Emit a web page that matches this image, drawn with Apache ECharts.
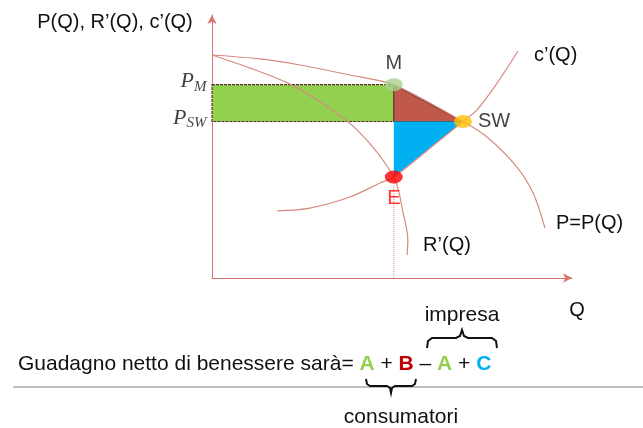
<!DOCTYPE html>
<html>
<head>
<meta charset="utf-8">
<script src="https://cdn.jsdelivr.net/npm/echarts@6/dist/echarts.min.js"></script>
<style>
  html, body { margin: 0; padding: 0; background: #fff; }
  #main { width: 643px; height: 428px; }
</style>
</head>
<body>
<div id="main"></div>
<script>
// punti chiave (Q, P)
var Q_M = 5.05, P_M = 7.35;
var Q_SW = 6.97, P_SW = 5.95;
var P_E = 3.84;

// curve
var demand = [[0, 8.48], [1.33, 8.33], [2.44, 8.1], [3.83, 7.72], [Q_M, P_M], [Q_SW, P_SW],
  [7.64, 5.36], [8.47, 4.22], [8.92, 3.23], [9.25, 1.9]];
var marginalRevenue = [[0, 8.48], [1.06, 7.98], [2.11, 7.41], [2.92, 6.77], [4.03, 5.63],
  [Q_M, P_E], [5.31, 2.47], [5.44, 1.44], [5.42, 0.87]];
var marginalCost = [[1.81, 2.55], [2.72, 2.66], [3.83, 3.08], [4.67, 3.61], [Q_M, P_E],
  [6.06, 4.94], [Q_SW, P_SW], [7.36, 6.39], [7.92, 7.41], [8.5, 8.63]];

// aree A, B, C
var areaA = [[0, P_M], [Q_M, P_M], [Q_M, P_SW], [0, P_SW]];
var areaB = [[Q_M, P_M], [Q_SW, P_SW], [Q_M, P_SW]];
var areaC = [[Q_M, P_SW], [Q_SW, P_SW], [Q_M, P_E]];
var areas = [areaA, areaB, areaC];

var pointNames = ['M', 'SW', 'E'];
var pointValues = [[Q_M, P_M], [Q_SW, P_SW], [Q_M, P_E]];
var priceLabels = ['M', 'SW'];
var priceValues = [P_M, P_SW];

var txtFont = 'Liberation Sans, Arial, Helvetica, sans-serif';
var mathFont = 'Liberation Serif, DejaVu Serif, serif';
var curveColor = '#d68a80';
var axisColor = '#d9766c';

var myChart = echarts.init(document.getElementById('main'));

var areaStyles = [
  { fill: '#92d050', stroke: '#5e2f29', lineWidth: 1.2, lineDash: [3, 1] },
  { fill: '#c0584b', stroke: '#5e2f29', lineWidth: 1 },
  { fill: '#00b0f0', stroke: null }
];

var axisCommon = {
  type: 'value',
  min: 0,
  max: 10,
  axisLine: {
    show: true,
    symbol: ['none', 'arrow'],
    symbolSize: [7, 9],
    lineStyle: { color: axisColor, width: 1 }
  },
  axisTick: { show: false },
  axisLabel: { show: false },
  splitLine: { show: false }
};

var endLbl = function (offset) {
  return {
    show: true,
    formatter: '{a}',
    color: '#111',
    fontSize: 20,
    fontFamily: txtFont,
    offset: offset
  };
};

var option = {
  animation: false,
  grid: { left: 212, top: 15, right: 71, bottom: 150 },
  xAxis: axisCommon,
  yAxis: axisCommon,
  series: [
    {
      type: 'custom',
      silent: true,
      z: 1,
      renderItem: function (params, api) {
        var poly = areas[params.dataIndex];
        var pts = poly.map(function (p) { return api.coord(p); });
        return { type: 'polygon', shape: { points: pts }, style: areaStyles[params.dataIndex] };
      },
      encode: { x: 0, y: 1 },
      data: areas.map(function (a) { return a[0]; })
    },
    {
      name: 'E-line',
      type: 'line',
      z: 2,
      symbol: 'none',
      lineStyle: { color: curveColor, type: 'dotted', width: 1 },
      data: [[Q_M, P_E], [Q_M, 0]]
    },
    {
      name: 'P=P(Q)',
      type: 'line',
      z: 3,
      smooth: 0.3,
      symbol: 'none',
      lineStyle: { color: curveColor, width: 1.2 },
      endLabel: endLbl([3, -5]),
      data: demand
    },
    {
      name: 'R’(Q)',
      type: 'line',
      z: 3,
      smooth: 0.3,
      symbol: 'none',
      lineStyle: { color: curveColor, width: 1.2 },
      endLabel: endLbl([8, -10]),
      data: marginalRevenue
    },
    {
      name: 'c’(Q)',
      type: 'line',
      z: 3,
      smooth: 0.3,
      symbol: 'none',
      lineStyle: { color: curveColor, width: 1.2 },
      endLabel: endLbl([8, 4]),
      data: marginalCost
    },
    {
      type: 'scatter',
      z: 5,
      symbol: 'circle',
      symbolSize: [18, 13],
      data: [
        { name: pointNames[0], value: pointValues[0], itemStyle: { color: '#a9d18e' },
          label: { position: 'top', distance: 5 } },
        { name: pointNames[1], value: pointValues[1], itemStyle: { color: '#ffc000' },
          label: { position: 'right', distance: 6 } },
        { name: pointNames[2], value: pointValues[2], itemStyle: { color: '#ff0000' },
          label: { position: 'bottom', distance: 5, color: '#ff0000' } }
      ],
      label: {
        show: true,
        formatter: '{b}',
        color: '#111',
        fontSize: 20,
        fontFamily: txtFont
      }
    },
    {
      type: 'scatter',
      z: 5,
      symbol: 'circle',
      symbolSize: 1,
      silent: true,
      itemStyle: { color: 'rgba(0,0,0,0)' },
      data: priceLabels.map(function (n, i) { return { name: n, value: [0, priceValues[i]] }; }),
      label: {
        show: true,
        position: 'left',
        distance: 5,
        offset: [0, -3],
        formatter: '{p|P}{s|{b}}',
        rich: {
          p: { fontFamily: mathFont, fontStyle: 'italic', fontSize: 22, color: '#111' },
          s: { fontFamily: mathFont, fontStyle: 'italic', fontSize: 15, color: '#111',
               padding: [10, 0, 0, 0] }
        }
      }
    }
  ],
  graphic: [
    {
      type: 'text', x: 115, y: 22,
      style: { text: 'P(Q), R’(Q), c’(Q)', fontSize: 20, fontFamily: txtFont, fill: '#111',
               align: 'center', verticalAlign: 'middle' }
    },
    {
      type: 'text', x: 577, y: 310,
      style: { text: 'Q', fontSize: 20, fontFamily: txtFont, fill: '#111',
               align: 'center', verticalAlign: 'middle' }
    },
    {
      type: 'text', x: 462, y: 315,
      style: { text: 'impresa', fontSize: 21, fontFamily: txtFont, fill: '#111',
               align: 'center', verticalAlign: 'middle' }
    },
    {
      type: 'text', x: 401, y: 417,
      style: { text: 'consumatori', fontSize: 21, fontFamily: txtFont, fill: '#111',
               align: 'center', verticalAlign: 'middle' }
    },
    {
      type: 'text', x: 18, y: 364,
      style: {
        text: 'Guadagno netto di benessere sarà= {a|A} + {b|B} – {a|A} + {c|C}',
        fontSize: 21, fontFamily: txtFont, fill: '#111', verticalAlign: 'middle',
        rich: {
          a: { fill: '#92d050', fontWeight: 'bold', fontSize: 21, fontFamily: txtFont },
          b: { fill: '#c00000', fontWeight: 'bold', fontSize: 21, fontFamily: txtFont },
          c: { fill: '#00b0f0', fontWeight: 'bold', fontSize: 21, fontFamily: txtFont }
        }
      }
    },
    {
      type: 'polyline',
      shape: { points: [[427, 348], [428, 341], [432, 338], [456, 338], [460, 336], [462, 330],
                        [464, 336], [468, 338], [492, 338], [496, 341], [497, 348]] },
      style: { fill: null, stroke: '#111', lineWidth: 2 }
    },
    {
      type: 'line',
      shape: { x1: 13, y1: 387, x2: 643, y2: 387 },
      style: { stroke: '#aaaaaa', lineWidth: 1.5 }
    },
    {
      type: 'polyline',
      shape: { points: [[366, 379], [367, 384], [370, 386], [387, 386], [390, 388], [391, 393],
                        [392, 388], [395, 386], [412, 386], [415, 384], [416, 379]] },
      style: { fill: null, stroke: '#111', lineWidth: 2 }
    }
  ]
};

myChart.setOption(option);
</script>
</body>
</html>
